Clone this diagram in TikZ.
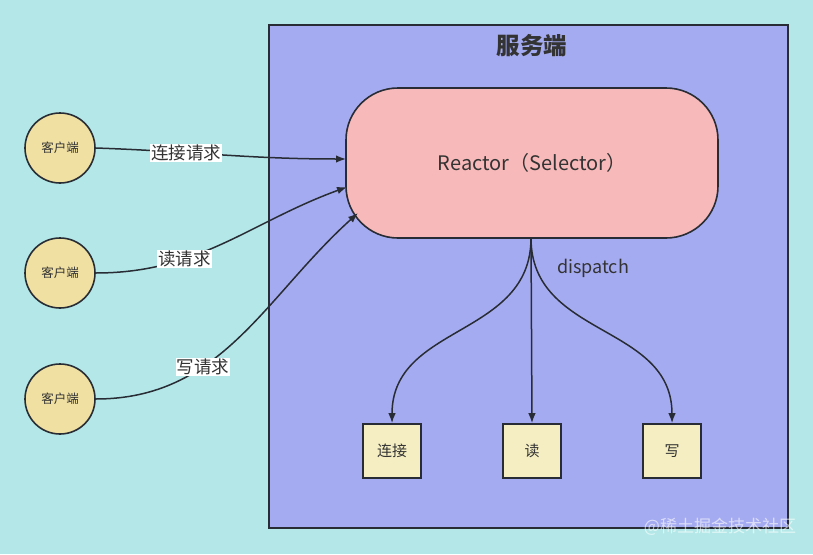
\documentclass[tikz,border=0pt]{standalone}
\usepackage{fontspec}
\setmainfont{Noto Sans CJK SC}
\usetikzlibrary{arrows.meta}

\definecolor{bgcyan}{RGB}{180,232,232}
\definecolor{serverblue}{RGB}{165,171,240}
\definecolor{reactorpink}{RGB}{247,185,185}
\definecolor{clientyellow}{RGB}{240,224,162}
\definecolor{boxyellow}{RGB}{245,238,194}
\definecolor{linedark}{RGB}{40,44,52}
\definecolor{textdark}{RGB}{51,51,51}

\newcommand{\fsz}[1]{\fontsize{#1}{#1}\selectfont}

\begin{document}
\begin{tikzpicture}[x=1pt,y=1pt,
    client/.style={circle, draw=linedark, line width=1.6pt, fill=clientyellow, minimum size=70pt, inner sep=0pt, text=textdark, font=\fsz{12.5}},
    handler/.style={rectangle, draw=linedark, line width=1.6pt, fill=boxyellow, minimum width=58pt, minimum height=54pt, inner sep=0pt, text=textdark, font=\fsz{15}},
    req/.style={fill=white, inner sep=1pt, text=textdark, font=\fsz{17.5}},
    flow/.style={draw=linedark, line width=1.5pt, -{Latex[length=10pt,width=7.5pt]}}]

    % Background
    \fill[bgcyan] (0,0) rectangle (813,-554);
    \useasboundingbox (0,0) rectangle (813,-554);

    % Server box
    \draw[line width=1.8pt, draw=linedark, fill=serverblue] (269,-25) rectangle (788,-528);
    \node[font=\fsz{23.5}\bfseries, text=textdark] (title) at (532,-46) {服务端};

    % Reactor
    \node[draw=linedark, line width=1.6pt, fill=reactorpink, rounded corners=52pt,
          minimum width=372pt, minimum height=150pt, text=textdark, font=\fsz{20}]
          (reactor) at (532,-163) {Reactor（Selector）};

    % Clients
    \node[client] (c1) at (60,-148) {客户端};
    \node[client] (c2) at (60,-273) {客户端};
    \node[client] (c3) at (60,-399) {客户端};

    % Handlers
    \node[handler] (conn) at (392,-451) {连接};
    \node[handler] (read) at (532,-451) {读};
    \node[handler] (write) at (672,-451) {写};

    % Requests
    \coordinate (r1) at (346,-159);
    \coordinate (r2) at (347,-187);
    \coordinate (r3) at (358,-213);
    \draw[flow] (c1.east) to[out=-2,in=180] node[req, pos=0.35] {连接请求} (r1);
    \draw[flow] (c2.east) to[out=0,in=200] node[req, pos=0.33] {读请求} (r2);
    \draw[flow] (c3.east) to[out=0,in=222] node[req, pos=0.35] {写请求} (r3);

    % Dispatch
    \coordinate (d0) at (531,-238);
    \draw[flow] (d0) to[out=-90,in=90, looseness=1.1] (conn.north);
    \draw[flow] (d0) -- (read.north);
    \draw[flow] (d0) to[out=-90,in=90, looseness=1.1] (write.north);
    \node[font=\fsz{18}, text=textdark] (dispatch) at (593,-268) {dispatch};

    % Watermark
    \node[font=\fsz{17}, text=white, opacity=0.6] (mark) at (720,-527) {@稀土掘金技术社区};

\end{tikzpicture}
\end{document}
